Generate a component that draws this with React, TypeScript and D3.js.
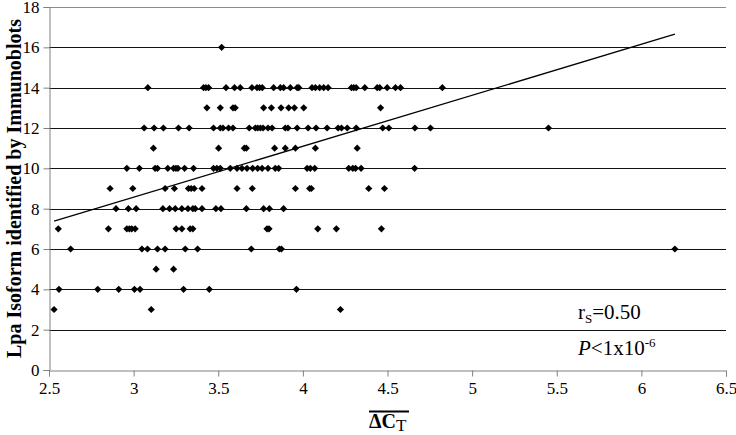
import React, { useEffect, useRef } from "react";
import * as d3 from "d3";

// delta Ct values, one list per number of isoforms identified
const ROW_16 = [3.52];
const ROW_14 = [3.084, 3.413, 3.427, 3.443, 3.546, 3.596, 3.63, 3.699, 3.729, 3.744, 3.76, 3.827, 3.867, 3.886, 3.926, 3.966, 3.976, 4.054, 4.074, 4.099, 4.123, 4.149, 4.287, 4.301, 4.315, 4.366, 4.439, 4.454, 4.498, 4.547, 4.577, 4.824];
const ROW_13 = [3.433, 3.512, 3.587, 3.6, 3.768, 3.814, 3.871, 3.916, 3.95, 4.005, 4.459];
const ROW_12 = [3.062, 3.121, 3.176, 3.265, 3.328, 3.472, 3.512, 3.528, 3.561, 3.587, 3.683, 3.719, 3.733, 3.749, 3.765, 3.794, 3.818, 3.896, 3.912, 3.966, 4.031, 4.078, 4.143, 4.208, 4.228, 4.262, 4.315, 4.472, 4.508, 4.662, 4.754, 5.451];
const ROW_11 = [3.117, 3.502, 3.654, 3.666, 3.833, 3.896, 3.956, 4.074, 4.321];
const ROW_10 = [2.96, 3.034, 3.127, 3.141, 3.202, 3.236, 3.25, 3.262, 3.301, 3.354, 3.472, 3.492, 3.512, 3.571, 3.611, 3.64, 3.67, 3.703, 3.733, 3.759, 3.794, 3.837, 3.857, 4.025, 4.044, 4.07, 4.271, 4.295, 4.311, 4.344, 4.66];
const ROW_9 = [2.861, 2.995, 3.186, 3.241, 3.324, 3.34, 3.358, 3.404, 3.611, 3.701, 3.956, 4.04, 4.05, 4.389, 4.482];
const ROW_8 = [2.896, 2.969, 3.015, 3.173, 3.212, 3.246, 3.285, 3.321, 3.35, 3.364, 3.404, 3.486, 3.516, 3.666, 3.768, 3.802, 3.886];
const ROW_7 = [2.555, 2.851, 2.96, 2.975, 2.989, 3.009, 3.251, 3.285, 3.334, 3.35, 3.788, 3.8, 4.088, 4.198, 4.464];
const ROW_6 = [2.628, 3.049, 3.082, 3.141, 3.186, 3.305, 3.378, 3.695, 3.861, 3.873, 6.198];
const ROW_5 = [3.133, 3.236];
const ROW_4 = [2.559, 2.788, 2.912, 3.005, 3.038, 3.295, 3.447, 3.962];
const ROW_3 = [2.53, 3.104, 4.222];

const ROWS: [number, number[]][] = [
  [16, ROW_16], [14, ROW_14], [13, ROW_13], [12, ROW_12], [11, ROW_11], [10, ROW_10],
  [9, ROW_9], [8, ROW_8], [7, ROW_7], [6, ROW_6], [5, ROW_5], [4, ROW_4], [3, ROW_3],
];

// linear trendline end points
const TREND = [
  { x: 2.53, y: 7.38 },
  { x: 6.198, y: 16.65 },
];

const X_TICKS = [2.5, 3, 3.5, 4, 4.5, 5, 5.5, 6, 6.5];
const Y_TICKS = [0, 2, 4, 6, 8, 10, 12, 14, 16, 18];

const FONT = "'Liberation Serif', 'Times New Roman', serif";

export default function App() {
  const svgRef = useRef<SVGSVGElement | null>(null);

  useEffect(() => {
    if (!svgRef.current) return;
    const svg = d3.select(svgRef.current);
    svg.selectAll("*").remove();

    const x = d3.scaleLinear().domain([2.5, 6.5]).range([49, 726]);
    const y = d3.scaleLinear().domain([0, 18]).range([370, 7]);

    const points = ROWS.flatMap(([count, xs]) => xs.map(v => ({ x: v, y: count })));

    // gridlines
    svg.append("g")
      .selectAll("line")
      .data(Y_TICKS.filter(d => d > 0))
      .enter()
      .append("line")
      .attr("x1", x(2.5))
      .attr("x2", x(6.5))
      .attr("y1", d => Math.round(y(d)) + 0.5)
      .attr("y2", d => Math.round(y(d)) + 0.5)
      .attr("stroke", d => (d === 18 ? "#8c8c8c" : "#111"))
      .attr("stroke-width", 1);

    // axes
    const xAxis = d3.axisBottom(x).tickValues(X_TICKS).tickSize(6).tickPadding(5).tickFormat(d => String(d));
    const yAxis = d3.axisLeft(y).tickValues(Y_TICKS).tickSize(6).tickPadding(4).tickFormat(d => String(d));

    const gx = svg.append("g")
      .attr("transform", `translate(0,${Math.round(y(0)) + 0.5})`)
      .call(xAxis);
    const gy = svg.append("g")
      .attr("transform", `translate(${Math.round(x(2.5)) + 0.5},0)`)
      .call(yAxis);

    [gx, gy].forEach(g => {
      g.attr("font-family", FONT).attr("font-size", 17);
      g.select(".domain").attr("stroke", "#808080");
      g.selectAll(".tick line").attr("stroke", "#808080");
      g.selectAll(".tick text")
        .attr("fill", "#000")
        .style("font-family", FONT)
        .style("font-size", "17px");
    });

    // trendline
    svg.append("path")
      .datum(TREND)
      .attr("fill", "none")
      .attr("stroke", "#000")
      .attr("stroke-width", 1.3)
      .attr("d", d3.line<{ x: number; y: number }>().x(d => x(d.x)).y(d => y(d.y)));

    // markers
    const diamond = d3.symbol().type(d3.symbolSquare).size(26);
    svg.append("g")
      .selectAll("path")
      .data(points)
      .enter()
      .append("path")
      .attr("d", diamond)
      .attr("transform", d => `translate(${x(d.x)},${y(d.y)}) rotate(45)`)
      .attr("fill", "#000");

    // y title
    svg.append("text")
      .attr("transform", `translate(21,${(y(0) + y(18)) / 2}) rotate(-90)`)
      .attr("text-anchor", "middle")
      .style("font-family", FONT)
      .attr("font-weight", "bold")
      .attr("font-size", "20px")
      .attr("fill", "#000")
      .text("Lpa Isoform identified by Immunoblots");

    // x title: overlined delta C sub T
    const xt = svg.append("text")
      .attr("x", 369)
      .attr("y", 428)
      .style("font-family", FONT)
      .attr("font-size", "20px")
      .attr("fill", "#000");
    xt.append("tspan").attr("font-weight", "bold").text("ΔC");
    xt.append("tspan").attr("font-size", "17px").attr("dy", 3).text("T");
    svg.append("line")
      .attr("x1", 369)
      .attr("x2", 409)
      .attr("y1", 411.5)
      .attr("y2", 411.5)
      .attr("stroke", "#000")
      .attr("stroke-width", 2);

    // statistics
    const r = svg.append("text")
      .attr("x", 578)
      .attr("y", 319)
      .style("font-family", FONT)
      .attr("font-size", "21px")
      .attr("fill", "#000");
    r.append("tspan").text("r");
    r.append("tspan").attr("font-size", "13px").attr("dy", 4).text("S");
    r.append("tspan").attr("dy", -4).text("=0.50");

    const p = svg.append("text")
      .attr("x", 578)
      .attr("y", 355)
      .style("font-family", FONT)
      .attr("font-size", "21px")
      .attr("fill", "#000");
    p.append("tspan").attr("font-style", "italic").text("P");
    p.append("tspan").text("<1x10");
    p.append("tspan").attr("font-size", "13px").attr("dy", -8).text("-6");
  }, []);

  return (
    <svg
      ref={svgRef}
      width={736}
      height={435}
      style={{ position: "absolute", left: 0, top: 0, background: "#fff" }}
    />
  );
}
